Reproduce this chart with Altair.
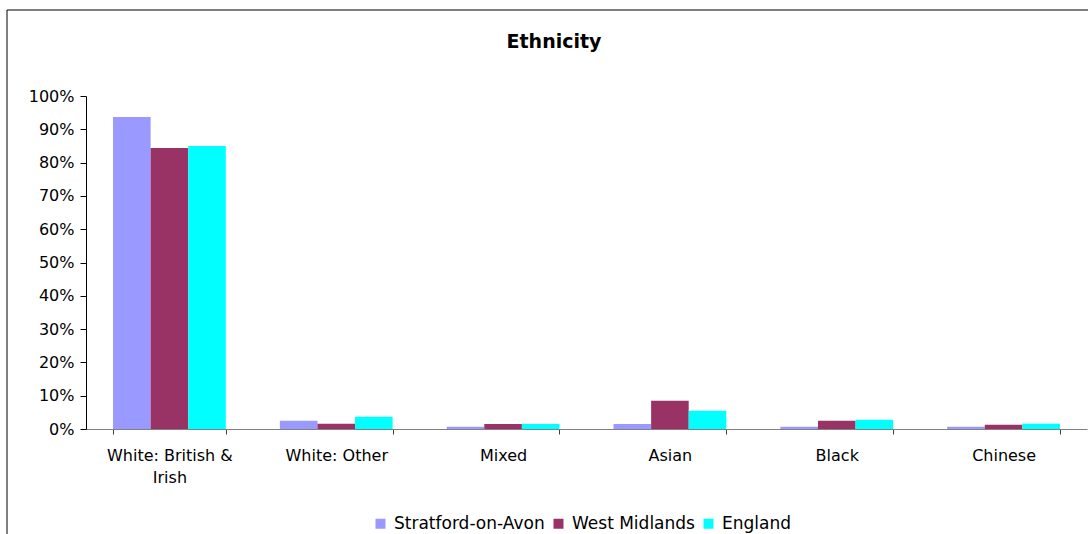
import altair as alt
import pandas as pd

categories = ["White: British & Irish", "White: Other", "Mixed", "Asian", "Black", "Chinese"]
series = ["Stratford-on-Avon", "West Midlands", "England"]
stratford = [0.937, 0.025, 0.007, 0.015, 0.007, 0.007]
west_midlands = [0.844, 0.016, 0.015, 0.085, 0.025, 0.013]
england = [0.850, 0.037, 0.015, 0.055, 0.028, 0.016]
colors = ["#9999FF", "#993366", "#00FFFF"]

rows = []
for name, vals in zip(series, [stratford, west_midlands, england]):
    for c, v in zip(categories, vals):
        rows.append({"category": c, "series": name, "value": v})
df = pd.DataFrame(rows)

FONT = "DejaVu Sans"
W, H = 1001, 333

bars = alt.Chart(df).mark_bar().encode(
    x=alt.X("category:N", sort=categories, title=None,
            scale=alt.Scale(paddingInner=0.324, paddingOuter=0.162),
            axis=alt.Axis(labelAngle=0, tickBand="extent", domainColor="#808080",
                          tickColor="#404040", tickSize=5, labelPadding=13,
                          labelFont=FONT, labelFontSize=16, labelColor="#000000",
                          labelLimit=250, labelLineHeight=22,
                          labelExpr="datum.value == 'White: British & Irish' ? ['White: British &', 'Irish'] : datum.value")),
    xOffset=alt.XOffset("series:N", sort=series),
    y=alt.Y("value:Q", title=None,
            scale=alt.Scale(domain=[0, 1], nice=False),
            axis=alt.Axis(format=".0%", values=[i / 10 for i in range(11)], grid=False,
                          domainColor="#000000", tickColor="#000000", tickSize=6,
                          labelPadding=6, labelFont=FONT, labelFontSize=16,
                          labelColor="#000000")),
    color=alt.Color("series:N", sort=series,
                    scale=alt.Scale(domain=series, range=colors),
                    legend=alt.Legend(title=None, orient="none", direction="horizontal",
                                      legendX=286, legendY=419, symbolType="square",
                                      symbolSize=100, symbolStrokeWidth=0,
                                      labelFont=FONT, labelFontSize=17,
                                      labelColor="#000000", columnPadding=5,
                                      symbolOffset=0, labelOffset=5)),
)

title = alt.Chart(alt.Data(values=[{"t": "Ethnicity"}])).mark_text(
    font=FONT, fontSize=19, fontWeight="bold", color="#000000",
    align="center", baseline="middle"
).encode(text="t:N", x=alt.value(468), y=alt.value(-54))

frame_top = alt.Chart(alt.Data(values=[{}])).mark_rule(color="#000000", strokeWidth=1).encode(
    x=alt.value(-79), x2=alt.value(1010), y=alt.value(-86))
frame_left = alt.Chart(alt.Data(values=[{}])).mark_rule(color="#000000", strokeWidth=1).encode(
    x=alt.value(-79), y=alt.value(-86), y2=alt.value(440))

chart = alt.layer(bars, title, frame_top, frame_left).properties(
    width=W, height=H,
    view=alt.ViewBackground(stroke="transparent", strokeWidth=0),
    autosize=alt.AutoSizeParams(type="none"),
    padding={"left": 86, "top": 96, "right": 1, "bottom": 105},
).configure_view(strokeWidth=0, stroke="transparent", strokeOpacity=0).configure(background="#FFFFFF")

chart.save("out.html", embed_options={"renderer": "svg", "actions": False})
